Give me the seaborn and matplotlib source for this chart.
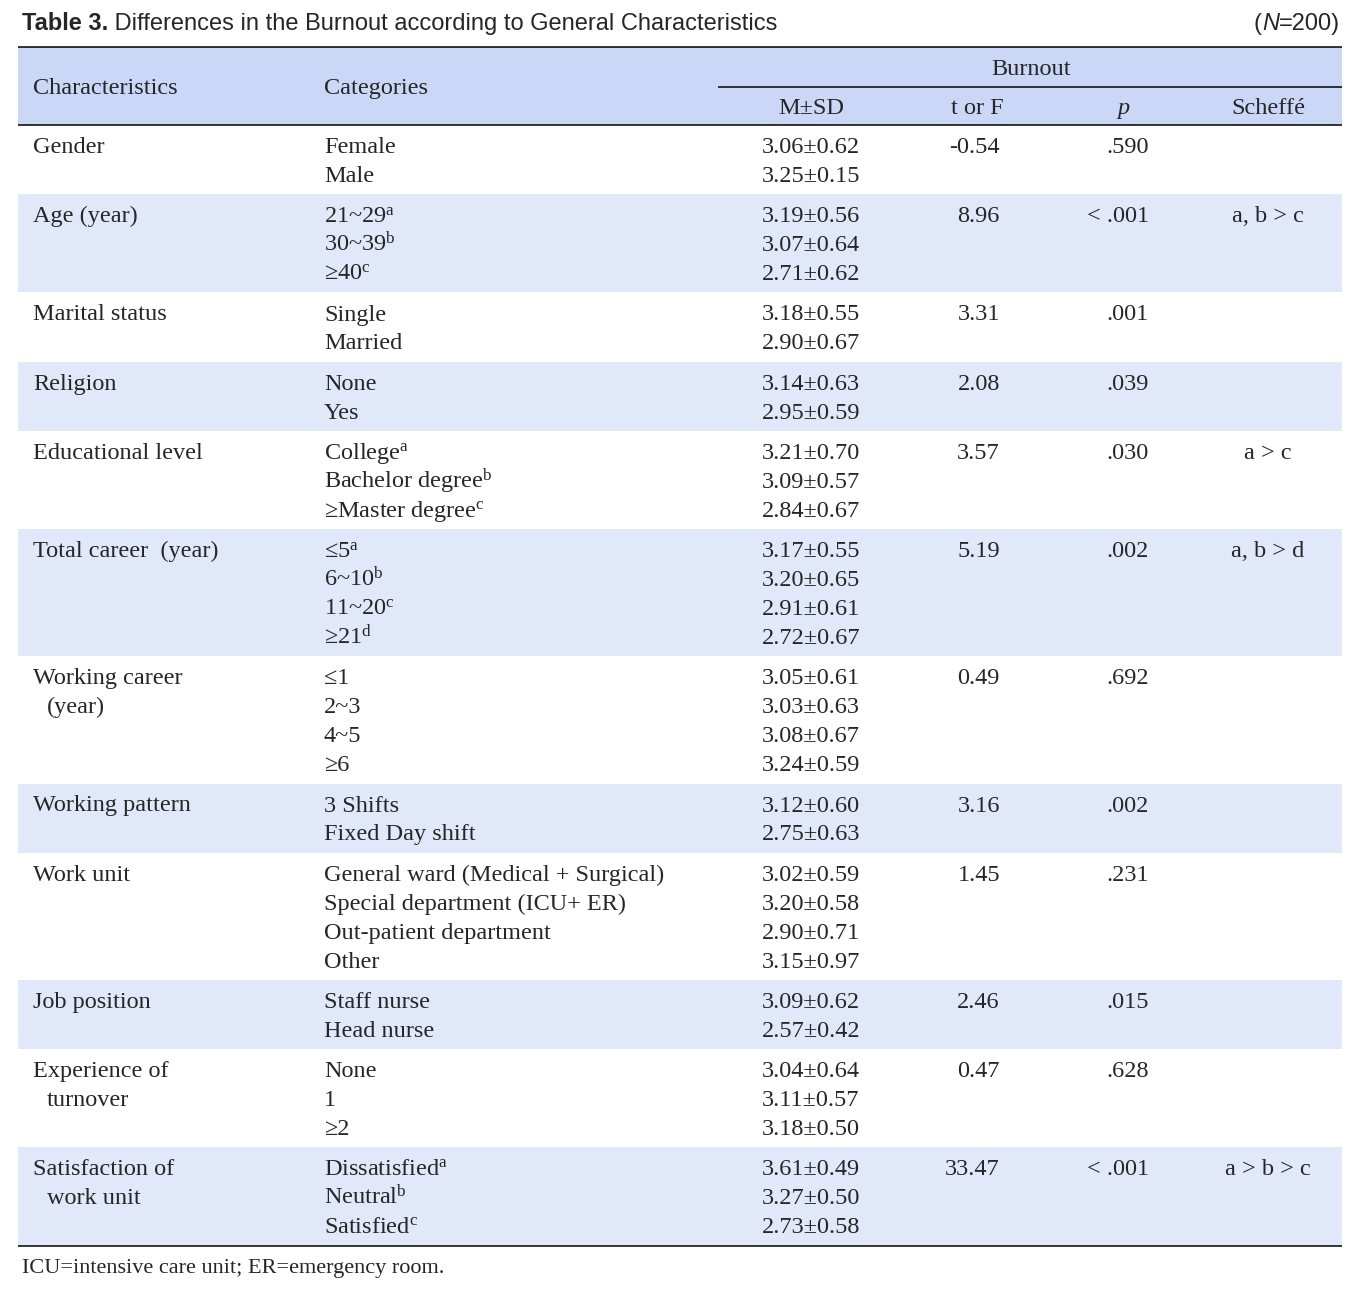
import matplotlib
matplotlib.use("Agg")
import matplotlib.pyplot as plt
import seaborn as sns

# ---- table data ----
characteristics = [
    ["Gender"], ["Age (year)"], ["Marital status"], ["Religion"],
    ["Educational level"], ["Total career  (year)"], ["Working career", "(year)"],
    ["Working pattern"], ["Work unit"], ["Job position"],
    ["Experience of", "turnover"], ["Satisfaction of", "work unit"],
]
categories = [
    ["Female", "Male"],
    ["21~29$^{\\mathrm{a}}$", "30~39$^{\\mathrm{b}}$", "\u226540$^{\\mathrm{c}}$"],
    ["Single", "Married"],
    ["None", "Yes"],
    ["College$^{\\mathrm{a}}$", "Bachelor degree$^{\\mathrm{b}}$", "\u2265Master degree$^{\\mathrm{c}}$"],
    ["\u22645$^{\\mathrm{a}}$", "6~10$^{\\mathrm{b}}$", "11~20$^{\\mathrm{c}}$", "\u226521$^{\\mathrm{d}}$"],
    ["\u22641", "2~3", "4~5", "\u22656"],
    ["3 Shifts", "Fixed Day shift"],
    ["General ward (Medical + Surgical)", "Special department (ICU+ ER)",
     "Out-patient department", "Other"],
    ["Staff nurse", "Head nurse"],
    ["None", "1", "\u22652"],
    ["Dissatisfied$^{\\mathrm{a}}$", "Neutral$^{\\mathrm{b}}$", "Satisfied$^{\\mathrm{c}}$"],
]
means = [
    [3.06, 3.25], [3.19, 3.07, 2.71], [3.18, 2.90], [3.14, 2.95],
    [3.21, 3.09, 2.84], [3.17, 3.20, 2.91, 2.72], [3.05, 3.03, 3.08, 3.24],
    [3.12, 2.75], [3.02, 3.20, 2.90, 3.15], [3.09, 2.57],
    [3.04, 3.11, 3.18], [3.61, 3.27, 2.73],
]
sds = [
    [0.62, 0.15], [0.56, 0.64, 0.62], [0.55, 0.67], [0.63, 0.59],
    [0.70, 0.57, 0.67], [0.55, 0.65, 0.61, 0.67], [0.61, 0.63, 0.67, 0.59],
    [0.60, 0.63], [0.59, 0.58, 0.71, 0.97], [0.62, 0.42],
    [0.64, 0.57, 0.50], [0.49, 0.50, 0.58],
]
t_or_f = ["-0.54", "8.96", "3.31", "2.08", "3.57", "5.19", "0.49",
          "3.16", "1.45", "2.46", "0.47", "33.47"]
p_values = [".590", "< .001", ".001", ".039", ".030", ".002", ".692",
            ".002", ".231", ".015", ".628", "< .001"]
scheffe = ["", "a, b > c", "", "", "a > c", "a, b > d", "", "", "", "", "", "a > b > c"]

title_bold = "Table 3."
title_rest = " Differences in the Burnout according to General Characteristics"
footnote = "ICU=intensive care unit; ER=emergency room."

# ---- style ----
sns.set_theme(style="white")
plt.rcParams["font.family"] = ["Liberation Serif", "DejaVu Serif"]
plt.rcParams["mathtext.fontset"] = "custom"
plt.rcParams["mathtext.rm"] = "Liberation Serif"
plt.rcParams["mathtext.it"] = "Liberation Serif:italic"

header_color = "#cad7f7"
band_color = "#e1e8fa"
body_size = 17.5
sans = ["Liberation Sans Narrow", "Liberation Sans", "DejaVu Sans"]

W, H = 1362, 1291
fig = plt.figure(figsize=(W / 100, H / 100), dpi=100)
ax = fig.add_axes([0, 0, 1, 1])
ax.set_xlim(0, W)
ax.set_ylim(H, 0)
ax.axis("off")

left, right = 18, 1342
x_char, x_cat, x_msd, x_t, x_p, x_sch = 33, 324, 811, 1000, 1149, 1268
line_h, pad, first_off = 28.9, 11.5, 21
base_shift = 7  # baseline below the visual line centre

# title
t1 = ax.text(22, 30, title_bold, fontsize=17, fontweight="bold", family=sans,
             va="baseline", ha="left")
ax.annotate(title_rest, xy=(1, 0), xycoords=t1, fontsize=17, family=sans,
            va="bottom", ha="left")
n3 = ax.text(1340, 30, "=200)", fontsize=17, family=sans, va="baseline", ha="right")
n2 = ax.annotate("N", xy=(0, 0), xycoords=n3, fontsize=17, family=sans,
                 style="italic", va="bottom", ha="right")
ax.annotate("(", xy=(0, 0), xycoords=n2, fontsize=17, family=sans,
            va="bottom", ha="right")

# header
head_top, head_bot = 47, 125
ax.axhspan(head_top, head_bot, xmin=left / W, xmax=right / W, color=header_color, lw=0)
ax.hlines([head_top, head_bot], left, right, color="black", lw=1.1)
ax.hlines(87, 718, right, color="black", lw=1.1)
ax.text(x_char, 87 + base_shift, "Characteristics", fontsize=body_size, va="baseline")
ax.text(x_cat, 87 + base_shift, "Categories", fontsize=body_size, va="baseline")
ax.text(1031, 68 + base_shift, "Burnout", fontsize=body_size, va="baseline", ha="center")
ax.text(x_msd, 107 + base_shift, "M\u00b1SD", fontsize=body_size, va="baseline", ha="center")
ax.text(977, 107 + base_shift, "t or F", fontsize=body_size, va="baseline", ha="center")
ax.text(1123, 107 + base_shift, "$\\mathit{p}$", fontsize=body_size, va="baseline", ha="center")
ax.text(x_sch, 107 + base_shift, "Scheff\u00e9", fontsize=body_size, va="baseline", ha="center")

# body
top = head_bot
for g, cats in enumerate(categories):
    n = len(cats)
    bottom = top + n * line_h + pad
    if g % 2 == 1:
        ax.axhspan(top, bottom, xmin=left / W, xmax=right / W, color=band_color, lw=0)
    y0 = top + first_off + base_shift
    for k, txt in enumerate(characteristics[g]):
        ax.text(x_char + (14 if k else 0), y0 + k * line_h, txt,
                fontsize=body_size, va="baseline")
    for k, txt in enumerate(cats):
        y = y0 + k * line_h
        ax.text(x_cat, y, txt, fontsize=body_size, va="baseline")
        ax.text(x_msd, y, f"{means[g][k]:.2f}\u00b1{sds[g][k]:.2f}",
                fontsize=body_size, va="baseline", ha="center")
    ax.text(x_t, y0, t_or_f[g], fontsize=body_size, va="baseline", ha="right")
    ax.text(x_p, y0, p_values[g], fontsize=body_size, va="baseline", ha="right")
    if scheffe[g]:
        ax.text(x_sch, y0, scheffe[g], fontsize=body_size, va="baseline", ha="center")
    top = bottom

ax.hlines(top, left, right, color="black", lw=1.1)
ax.text(22, top + 20 + base_shift, footnote, fontsize=16, va="baseline")

fig.savefig("out.png", dpi=100)
